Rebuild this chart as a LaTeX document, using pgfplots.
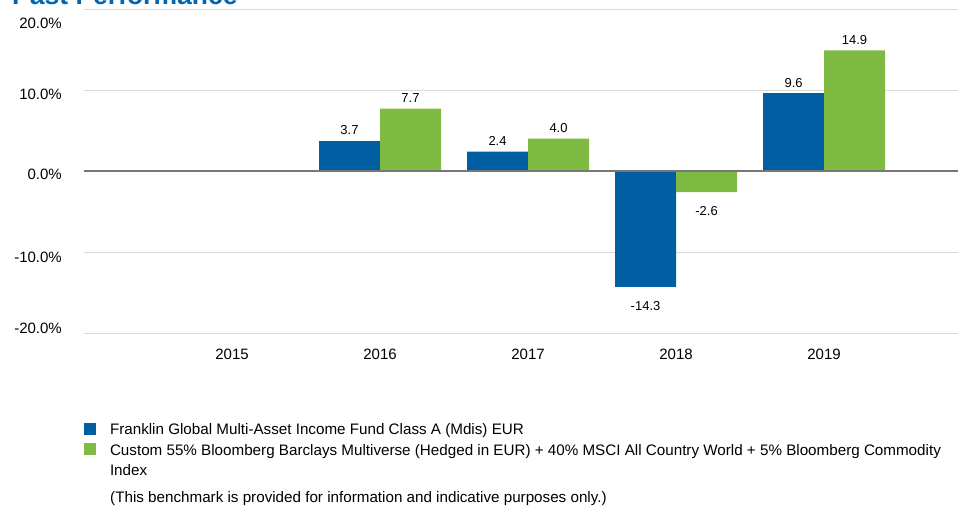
\documentclass[border=0pt]{standalone}
\usepackage{pgfplots}
\pgfplotsset{compat=1.18}
\usepackage{fontspec}
\setmainfont{Liberation Sans}
\definecolor{fblue}{RGB}{0,94,162}
\definecolor{fgreen}{RGB}{127,187,66}
\definecolor{tblue}{RGB}{0,101,179}
\definecolor{gridgray}{RGB}{217,217,217}
\definecolor{zerogray}{RGB}{118,118,118}
\begin{document}
\begin{tikzpicture}
\node[anchor=base west, font=\fontsize{26.5}{30}\selectfont\bfseries, text=tblue, inner sep=0pt] at (12pt,-4pt) {Past Performance};
\begin{axis}[
  at={(84pt,-333pt)}, anchor=south west,
  scale only axis, width=874pt, height=324pt,
  xmin=-1, xmax=4.905, ymin=-20, ymax=20,
  ybar=0pt, bar width=61pt,
  axis line style={draw=none}, major tick length=0pt,
  ytick={-19.4,-10.6,-0.37,9.44,18.2},
  yticklabels={-20.0\%,-10.0\%,0.0\%,10.0\%,20.0\%},
  extra y ticks={-20,-10,10,20}, extra y tick labels={},
  extra y tick style={ymajorgrids=true, major tick length=0pt},
  grid style={gridgray, line width=1pt},
  xtick={0,1,2,3,4}, xticklabels={2015,2016,2017,2018,2019},
  /pgf/number format/assume math mode=true,
  yticklabel style={anchor=east, inner sep=0pt, xshift=-22pt, font=\fontsize{15}{18}\selectfont},
  xticklabel style={anchor=north, inner sep=0pt, yshift=-15.5pt, font=\fontsize{15}{18}\selectfont},
  nodes near coords={\pgfmathprintnumber[fixed,fixed zerofill,precision=1]{\pgfplotspointmeta}},
  every node near coord/.append style={font=\fontsize{13}{15}\selectfont, inner sep=0pt, text height=23pt, text depth=6pt, black},
  legend style={at={(axis description cs:0,0)}, anchor=north west, yshift=-86.8pt,
    draw=none, fill=none, inner sep=0pt, outer sep=0pt, row sep=2.5pt, column sep=12pt,
    cells={anchor=west}, font=\fontsize{15.2}{18}\selectfont},
  legend image code/.code={\fill[#1] (0pt,-6pt) rectangle (12pt,6pt);},
]
\addplot[fill=fblue, draw=none] coordinates {(1,3.7) (2,2.4) (3,-14.3) (4,9.6)};
\addlegendentry{\strut Franklin Global Multi-Asset Income Fund Class A (Mdis) EUR}
\addplot[fill=fgreen, draw=none] coordinates {(1,7.7) (2,4.0) (3,-2.6) (4,14.9)};
\addlegendentry{\strut Custom 55\% Bloomberg Barclays Multiverse (Hedged in EUR) + 40\% MSCI All Country World + 5\% Bloomberg Commodity}
\addlegendimage{empty legend}
\addlegendentry{\strut Index}
\draw[zerogray, line width=1.3pt] (axis cs:-1,0) -- (axis cs:4.905,0);
\end{axis}
\node[anchor=base west, inner sep=0pt, font=\fontsize{15.2}{18}\selectfont] at (110pt,-502pt) {(This benchmark is provided for information and indicative purposes only.)};
\pgfresetboundingbox
\useasboundingbox (0,0) rectangle (965pt,-507pt);
\end{tikzpicture}
\end{document}
